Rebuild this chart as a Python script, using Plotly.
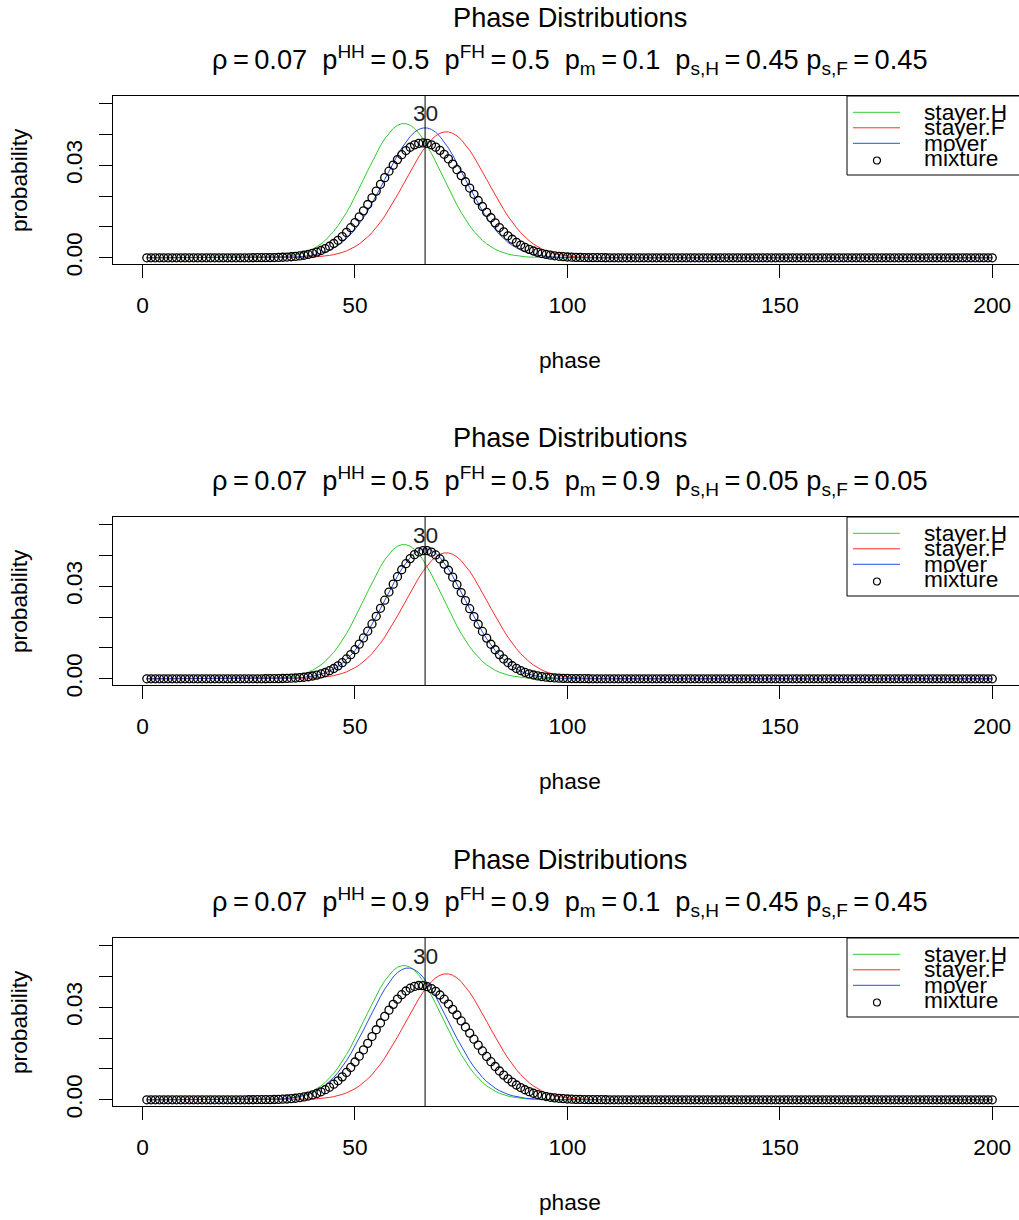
import plotly.graph_objects as go

# ---------------- data ----------------
phase = list(range(1, 201))
FIRST_PHASE = 25   # listed values start at phase 25; all other phases are 0

stayer_H = [
    0.00001, 0.00002, 0.00004, 0.00005, 0.00008, 0.00012, 0.00017, 0.00024, 0.00034, 0.00048,
    0.00066, 0.00090, 0.00121, 0.00161, 0.00212, 0.00276, 0.00354, 0.00450, 0.00564, 0.00700,
    0.00858, 0.01038, 0.01242, 0.01468, 0.01714, 0.01979, 0.02257, 0.02543, 0.02831, 0.03116,
    0.03387, 0.03639, 0.03863, 0.04052, 0.04200, 0.04302, 0.04353, 0.04353, 0.04302, 0.04200,
    0.04052, 0.03863, 0.03639, 0.03387, 0.03116, 0.02831, 0.02543, 0.02257, 0.01979, 0.01714,
    0.01468, 0.01242, 0.01038, 0.00858, 0.00700, 0.00564, 0.00450, 0.00354, 0.00276, 0.00212,
    0.00161, 0.00121, 0.00090, 0.00066, 0.00048, 0.00034, 0.00024, 0.00017, 0.00012, 0.00008,
    0.00005, 0.00004, 0.00002, 0.00001, 0, 0, 0, 0, 0, 0,
    0, 0, 0, 0, 0, 0]

stayer_F = [
    0, 0, 0, 0, 0, 0, 0, 0, 0.00001, 0.00002,
    0.00004, 0.00005, 0.00008, 0.00011, 0.00016, 0.00022, 0.00031, 0.00042, 0.00057, 0.00077,
    0.00102, 0.00134, 0.00174, 0.00224, 0.00285, 0.00359, 0.00448, 0.00553, 0.00676, 0.00817,
    0.00977, 0.01156, 0.01353, 0.01568, 0.01798, 0.02040, 0.02290, 0.02544, 0.02797, 0.03042,
    0.03275, 0.03488, 0.03677, 0.03835, 0.03958, 0.04042, 0.04085, 0.04085, 0.04042, 0.03958,
    0.03835, 0.03677, 0.03488, 0.03275, 0.03042, 0.02797, 0.02544, 0.02290, 0.02040, 0.01798,
    0.01568, 0.01353, 0.01156, 0.00977, 0.00817, 0.00676, 0.00553, 0.00448, 0.00359, 0.00285,
    0.00224, 0.00174, 0.00134, 0.00102, 0.00077, 0.00057, 0.00042, 0.00031, 0.00022, 0.00016,
    0.00011, 0.00008, 0.00005, 0.00004, 0.00002, 0.00001]

mover_a = [   # panels 1 and 2
    0, 0, 0, 0, 0.00001, 0.00002, 0.00004, 0.00005, 0.00008, 0.00011,
    0.00016, 0.00023, 0.00032, 0.00045, 0.00061, 0.00083, 0.00111, 0.00146, 0.00192, 0.00248,
    0.00317, 0.00401, 0.00502, 0.00621, 0.00760, 0.00919, 0.01099, 0.01300, 0.01521, 0.01759,
    0.02012, 0.02276, 0.02546, 0.02816, 0.03080, 0.03331, 0.03563, 0.03768, 0.03940, 0.04075,
    0.04167, 0.04214, 0.04214, 0.04167, 0.04075, 0.03940, 0.03768, 0.03563, 0.03331, 0.03080,
    0.02816, 0.02546, 0.02276, 0.02012, 0.01759, 0.01521, 0.01300, 0.01099, 0.00919, 0.00760,
    0.00621, 0.00502, 0.00401, 0.00317, 0.00248, 0.00192, 0.00146, 0.00111, 0.00083, 0.00061,
    0.00045, 0.00032, 0.00023, 0.00016, 0.00011, 0.00008, 0.00005, 0.00004, 0.00002, 0.00001,
    0, 0, 0, 0, 0, 0]

mover_b = [   # panel 3
    0.00001, 0.00002, 0.00003, 0.00004, 0.00007, 0.00010, 0.00014, 0.00020, 0.00028, 0.00039,
    0.00054, 0.00074, 0.00100, 0.00133, 0.00176, 0.00229, 0.00296, 0.00377, 0.00475, 0.00592,
    0.00729, 0.00887, 0.01067, 0.01270, 0.01493, 0.01735, 0.01993, 0.02263, 0.02540, 0.02819,
    0.03092, 0.03353, 0.03593, 0.03807, 0.03987, 0.04128, 0.04225, 0.04274, 0.04274, 0.04225,
    0.04128, 0.03987, 0.03807, 0.03593, 0.03353, 0.03092, 0.02819, 0.02540, 0.02263, 0.01993,
    0.01735, 0.01493, 0.01270, 0.01067, 0.00887, 0.00729, 0.00592, 0.00475, 0.00377, 0.00296,
    0.00229, 0.00176, 0.00133, 0.00100, 0.00074, 0.00054, 0.00039, 0.00028, 0.00020, 0.00014,
    0.00010, 0.00007, 0.00004, 0.00003, 0.00002, 0.00001, 0, 0, 0, 0,
    0, 0, 0, 0, 0, 0]

mixture_1 = [
    0, 0.00001, 0.00002, 0.00002, 0.00004, 0.00006, 0.00008, 0.00011, 0.00017, 0.00024,
    0.00033, 0.00045, 0.00061, 0.00082, 0.00109, 0.00142, 0.00184, 0.00236, 0.00299, 0.00374,
    0.00464, 0.00568, 0.00687, 0.00824, 0.00976, 0.01144, 0.01327, 0.01523, 0.01730, 0.01946,
    0.02165, 0.02385, 0.02602, 0.02811, 0.03007, 0.03187, 0.03346, 0.03480, 0.03589, 0.03666,
    0.03714, 0.03729, 0.03714, 0.03667, 0.03591, 0.03487, 0.03359, 0.03210, 0.03043, 0.02860,
    0.02668, 0.02468, 0.02264, 0.02061, 0.01860, 0.01665, 0.01477, 0.01300, 0.01134, 0.00981,
    0.00840, 0.00714, 0.00601, 0.00501, 0.00414, 0.00339, 0.00274, 0.00220, 0.00175, 0.00138,
    0.00108, 0.00083, 0.00064, 0.00048, 0.00036, 0.00026, 0.00019, 0.00014, 0.00010, 0.00007,
    0.00005, 0.00004, 0.00002, 0.00002, 0.00001, 0]

mixture_2 = [
    0, 0, 0, 0, 0.00001, 0.00002, 0.00004, 0.00006, 0.00009, 0.00012,
    0.00018, 0.00025, 0.00035, 0.00049, 0.00066, 0.00090, 0.00119, 0.00156, 0.00204, 0.00262,
    0.00333, 0.00420, 0.00523, 0.00644, 0.00784, 0.00944, 0.01124, 0.01325, 0.01544, 0.01780,
    0.02029, 0.02288, 0.02552, 0.02815, 0.03072, 0.03315, 0.03539, 0.03736, 0.03901, 0.04030,
    0.04117, 0.04160, 0.04158, 0.04111, 0.04021, 0.03890, 0.03723, 0.03524, 0.03299, 0.03056,
    0.02800, 0.02537, 0.02275, 0.02017, 0.01770, 0.01537, 0.01320, 0.01121, 0.00943, 0.00785,
    0.00645, 0.00526, 0.00423, 0.00337, 0.00266, 0.00208, 0.00160, 0.00123, 0.00093, 0.00070,
    0.00052, 0.00038, 0.00028, 0.00020, 0.00014, 0.00010, 0.00007, 0.00005, 0.00003, 0.00002,
    0.00001, 0, 0, 0, 0, 0]

mixture_3 = [
    0.00001, 0.00001, 0.00002, 0.00003, 0.00004, 0.00006, 0.00009, 0.00013, 0.00019, 0.00026,
    0.00037, 0.00050, 0.00068, 0.00091, 0.00120, 0.00157, 0.00203, 0.00259, 0.00327, 0.00409,
    0.00505, 0.00616, 0.00744, 0.00888, 0.01049, 0.01226, 0.01417, 0.01620, 0.01832, 0.02052,
    0.02273, 0.02493, 0.02707, 0.02910, 0.03098, 0.03267, 0.03412, 0.03531, 0.03622, 0.03681,
    0.03710, 0.03707, 0.03673, 0.03609, 0.03519, 0.03402, 0.03265, 0.03108, 0.02936, 0.02752,
    0.02560, 0.02363, 0.02164, 0.01967, 0.01773, 0.01585, 0.01407, 0.01237, 0.01080, 0.00934,
    0.00801, 0.00681, 0.00574, 0.00479, 0.00397, 0.00325, 0.00264, 0.00212, 0.00169, 0.00133,
    0.00104, 0.00081, 0.00062, 0.00047, 0.00035, 0.00026, 0.00019, 0.00014, 0.00010, 0.00007,
    0.00005, 0.00004, 0.00002, 0.00002, 0.00001, 0]

subtitles = [
    ("0.07", "0.5", "0.5", "0.1", "0.45", "0.45"),
    ("0.07", "0.5", "0.5", "0.9", "0.05", "0.05"),
    ("0.07", "0.9", "0.9", "0.1", "0.45", "0.45"),
]
movers = [mover_a, mover_a, mover_b]
mixtures = [mixture_1, mixture_2, mixture_3]
series_names = ["stayer.H", "stayer.F", "mover", "mixture"]
marked_phase = 66.5
marked_label = "30"
x_ticks = [0, 50, 100, 150, 200]
y_ticks = [0, 0.01, 0.02, 0.03, 0.04, 0.05]
y_ticktext = ["0.00", "", "", "0.03", "", ""]


def full(vals):
    out = [0.0] * len(phase)
    for i, v in enumerate(vals):
        out[FIRST_PHASE - 1 + i] = v
    return out


# ---------------- styling / layout ----------------
W, H = 1019, 1220
S = 1220 / 1208     # vertical stretch that compensates the page's extra height
FONT = "Liberation Sans, Arial, Helvetica, sans-serif"
BASE = 22.7
BIG = 27.2
GREEN, RED, BLUE = "#2ECC2E", "#FF2A2A", "#2A4FE0"
PANEL_DY = 421
TOP0, BOT0 = 96, 264
LEFT_PX = 113
X_RANGE = [-6.96, 206.3]
Y_RANGE = [-0.00202, 0.05252]

TS = "\u2009"      # thin space around '='
GAP = "\u00a0 "    # double space between terms


def subtitle(v):
    return (f"\u03c1{TS}={TS}{v[0]}{GAP}"
            f"p<sup>HH</sup>{TS}={TS}{v[1]}{GAP}"
            f"p<sup>FH</sup>{TS}={TS}{v[2]}{GAP}"
            f"p<sub>m</sub>{TS}={TS}{v[3]}{GAP}"
            f"p<sub>s,H</sub>{TS}={TS}{v[4]} "
            f"p<sub>s,F</sub>{TS}={TS}{v[5]}")


def ypap(px):
    return 1 - px * S / H


def yval(px_rel):
    # pixel position inside panel 1 -> data value
    return Y_RANGE[1] - (px_rel - TOP0) / (BOT0 - TOP0) * (Y_RANGE[1] - Y_RANGE[0])


def xval(px):
    return X_RANGE[0] + (px - LEFT_PX) / (W - LEFT_PX) * (X_RANGE[1] - X_RANGE[0])


fig = go.Figure()
shapes, annotations = [], []
layout = {}

for k in range(3):
    sfx = "" if k == 0 else str(k + 1)
    xa, ya = "x" + sfx, "y" + sfx
    off = k * PANEL_DY
    curves = [(full(stayer_H), GREEN), (full(stayer_F), RED), (full(movers[k]), BLUE)]
    for (vals, col), name in zip(curves, series_names):
        fig.add_trace(go.Scatter(x=phase, y=vals, mode="lines", name=name,
                                 line=dict(color=col, width=1),
                                 xaxis=xa, yaxis=ya, showlegend=False, hoverinfo="skip"))
    fig.add_trace(go.Scatter(x=phase, y=full(mixtures[k]), mode="markers", name="mixture",
                             marker=dict(symbol="circle-open", size=8, color="black",
                                         line=dict(width=1.3, color="black")),
                             xaxis=xa, yaxis=ya, showlegend=False, hoverinfo="skip"))

    layout["xaxis" + sfx] = dict(
        domain=[LEFT_PX / W, 1], range=X_RANGE, anchor=ya,
        tickvals=x_ticks, ticks="outside", ticklen=13, tickwidth=1, tickcolor="black",
        showline=True, linecolor="black", linewidth=1, mirror=True,
        showgrid=False, zeroline=False, ticklabelstandoff=8,
        tickfont=dict(family=FONT, size=BASE, color="black"))
    layout["yaxis" + sfx] = dict(
        domain=[ypap(BOT0 + off), ypap(TOP0 + off)], range=Y_RANGE, anchor=xa,
        tickvals=y_ticks, ticktext=y_ticktext, tickangle=-90,
        ticks="outside", ticklen=13, tickwidth=1, tickcolor="black",
        showline=True, linecolor="black", linewidth=1, mirror=False,
        showgrid=False, zeroline=False, ticklabelstandoff=8,
        tickfont=dict(family=FONT, size=BASE, color="black"))

    # marked phase line and label
    shapes.append(dict(type="line", xref=xa, yref=ya + " domain", x0=marked_phase, x1=marked_phase,
                       y0=0, y1=1, line=dict(color="black", width=1)))
    annotations.append(dict(xref=xa, yref=ya, x=marked_phase, y=yval(113.5), text=marked_label,
                            showarrow=False, xanchor="center", yanchor="middle",
                            font=dict(family=FONT, size=BASE, color="#222222")))

    # legend (drawn like R's legend("topright"))
    shapes.append(dict(type="rect", xref=xa, yref=ya, x0=xval(847), x1=xval(1040),
                       y0=yval(175), y1=Y_RANGE[1], line=dict(color="black", width=1)))
    item_px = [112.3, 127.8, 143.3, 158.9]
    for col, ypx in zip([GREEN, RED, BLUE], item_px[:3]):
        shapes.append(dict(type="line", xref=xa, yref=ya, x0=xval(853), x1=xval(900),
                           y0=yval(ypx), y1=yval(ypx), line=dict(color=col, width=1)))
    shapes.append(dict(type="circle", xref=xa, yref=ya, xsizemode="pixel", ysizemode="pixel",
                       xanchor=xval(877), yanchor=yval(160.5), x0=-3.5, x1=3.5, y0=-3.5, y1=3.5,
                       line=dict(color="black", width=1.2)))
    for name, ypx in zip(series_names, item_px):
        annotations.append(dict(xref=xa, yref=ya, x=xval(922), y=yval(ypx - 0.5), text=name,
                                showarrow=False, xanchor="left", yanchor="middle",
                                font=dict(family=FONT, size=BASE, color="black")))

    # titles and axis titles
    annotations.append(dict(xref=xa, yref="paper", x=100.5, y=ypap(17 + off),
                            text="Phase Distributions", showarrow=False,
                            xanchor="center", yanchor="middle",
                            font=dict(family=FONT, size=BIG, color="black")))
    annotations.append(dict(xref=xa, yref="paper", x=100.5, y=ypap(60 + off),
                            text=subtitle(subtitles[k]), showarrow=False,
                            xanchor="center", yanchor="middle",
                            font=dict(family=FONT, size=BIG, color="black")))
    annotations.append(dict(xref=xa, yref="paper", x=100.5, y=ypap(360 + off),
                            text="phase", showarrow=False,
                            xanchor="center", yanchor="middle",
                            font=dict(family=FONT, size=BASE, color="black")))
    annotations.append(dict(xref="paper", yref="paper", x=19 / W, y=ypap(180 + off),
                            text="probability", showarrow=False, textangle=-90,
                            xanchor="center", yanchor="middle",
                            font=dict(family=FONT, size=BASE, color="black")))

layout.update(dict(width=W, height=H, margin=dict(l=0, r=0, t=0, b=0),
                   paper_bgcolor="white", plot_bgcolor="white",
                   shapes=shapes, annotations=annotations, showlegend=False,
                   font=dict(family=FONT, color="black")))
fig.update_layout(layout)
fig.write_html("out.html")
